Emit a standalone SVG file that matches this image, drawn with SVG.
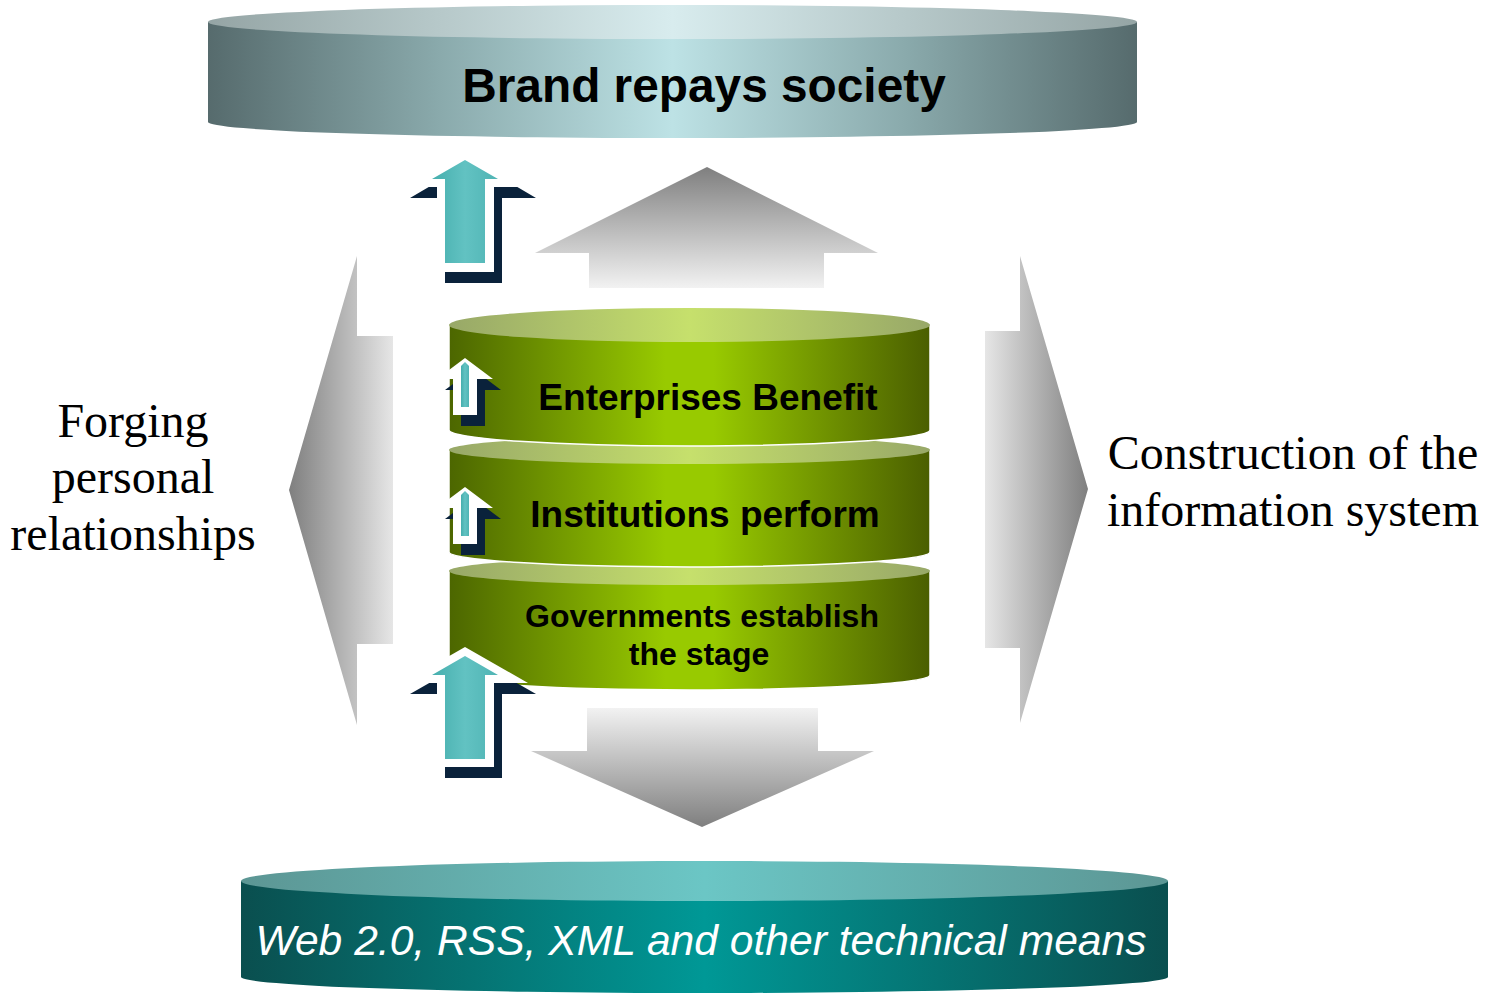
<svg xmlns="http://www.w3.org/2000/svg" width="1489" height="994" viewBox="0 0 1489 994">
<defs>
<linearGradient id="topBody" x1="0" y1="0" x2="1" y2="0">
<stop offset="0" stop-color="#566b6d"/><stop offset="0.25" stop-color="#8aaaac"/><stop offset="0.5" stop-color="#bde2e5"/><stop offset="0.75" stop-color="#8aaaac"/><stop offset="1" stop-color="#566b6d"/>
</linearGradient>
<linearGradient id="topCap" x1="0" y1="0" x2="1" y2="0">
<stop offset="0" stop-color="#95a5a5"/><stop offset="0.5" stop-color="#d8ecee"/><stop offset="1" stop-color="#95a5a5"/>
</linearGradient>
<linearGradient id="botBody" x1="0" y1="0" x2="1" y2="0">
<stop offset="0" stop-color="#0a4f4f"/><stop offset="0.5" stop-color="#009896"/><stop offset="1" stop-color="#0a4f4f"/>
</linearGradient>
<linearGradient id="botCap" x1="0" y1="0" x2="1" y2="0">
<stop offset="0" stop-color="#5c9694"/><stop offset="0.5" stop-color="#6bc6c5"/><stop offset="1" stop-color="#5c9694"/>
</linearGradient>
<linearGradient id="grBody" x1="0" y1="0" x2="1" y2="0">
<stop offset="0" stop-color="#4c6600"/><stop offset="0.45" stop-color="#98ca00"/><stop offset="0.55" stop-color="#98ca00"/><stop offset="1" stop-color="#4a5e00"/>
</linearGradient>
<linearGradient id="grCap" x1="0" y1="0" x2="1" y2="0">
<stop offset="0" stop-color="#98a868"/><stop offset="0.5" stop-color="#c6e06c"/><stop offset="1" stop-color="#98a868"/>
</linearGradient>
<linearGradient id="gUp" x1="0" y1="0" x2="0" y2="1">
<stop offset="0" stop-color="#7f7f7f"/><stop offset="1" stop-color="#f2f2f2"/>
</linearGradient>
<linearGradient id="gDown" x1="0" y1="0" x2="0" y2="1">
<stop offset="0" stop-color="#f2f2f2"/><stop offset="1" stop-color="#7f7f7f"/>
</linearGradient>
<linearGradient id="gLeft" x1="0" y1="0" x2="1" y2="0">
<stop offset="0" stop-color="#7f7f7f"/><stop offset="1" stop-color="#e6e6e6"/>
</linearGradient>
<linearGradient id="gRight" x1="0" y1="0" x2="1" y2="0">
<stop offset="0" stop-color="#e6e6e6"/><stop offset="1" stop-color="#7f7f7f"/>
</linearGradient>
<linearGradient id="teal" x1="0" y1="0" x2="1" y2="0">
<stop offset="0" stop-color="#45aead"/><stop offset="0.5" stop-color="#62c2c2"/><stop offset="1" stop-color="#4fb4b4"/>
</linearGradient>
</defs>
<style>
.navy{fill:#0a223b}
.wh{fill:#ffffff}
.tl{fill:url(#teal)}
.gbody{fill:url(#grBody);stroke:#ffffff;stroke-width:1.5}
.gcap{fill:url(#grCap)}
.gt{font-family:"Liberation Sans",Arial,sans-serif;font-weight:bold;fill:#000;text-anchor:middle}
.lab{font-family:"Liberation Serif","Times New Roman",serif;font-size:48px;fill:#000;text-anchor:middle}
</style>

<g id="connectors">
<polygon id="arrow-up" fill="url(#gUp)" points="707,167 878,253 824,253 824,288 589,288 589,253 535,253"/>
<polygon id="arrow-down" fill="url(#gDown)" points="587,708 818,708 818,751 874,751 702,827 531,751 587,751"/>
<polygon id="arrow-left" fill="url(#gLeft)" points="289,490 357,256 357,336 393,336 393,644 357,644 357,725"/>
<polygon id="arrow-right" fill="url(#gRight)" points="1088,489 1020,723 1020,648 985,648 985,331 1020,331 1020,256"/>
</g>

<g id="top-cylinder">
<path fill="url(#topBody)" d="M208,22 L208,122 A464.5,16 0 0 0 1137,122 L1137,22 Z"/>
<ellipse fill="url(#topCap)" cx="672.5" cy="22" rx="464.5" ry="17"/>
<text x="704" y="102" font-family="Liberation Sans,Arial,sans-serif" font-weight="bold" font-size="47.8" text-anchor="middle" fill="#000">Brand repays society</text>
</g>

<g id="bottom-cylinder">
<path fill="url(#botBody)" d="M241,881 L241,977 A463.5,16 0 0 0 1168,977 L1168,881 Z"/>
<ellipse fill="url(#botCap)" cx="704.5" cy="881" rx="463.5" ry="20"/>
<text x="701" y="955" font-family="Liberation Sans,Arial,sans-serif" font-style="italic" font-size="42.6" text-anchor="middle" fill="#ffffff">Web 2.0, RSS, XML and other technical means</text>
</g>

<g id="tier-governments">
<path class="gbody" d="M449,571 L449,675 A240.5,15 0 0 0 930,675 L930,571 Z"/>
<ellipse class="gcap" cx="689.5" cy="571" rx="240.5" ry="14"/>
<text class="gt" x="702" y="627" font-size="32">Governments establish</text>
<text class="gt" x="699" y="665" font-size="32">the stage</text>
</g>

<g id="tier-institutions">
<path class="gbody" d="M449,450 L449,552 A240.5,15 0 0 0 930,552 L930,450 Z"/>
<ellipse class="gcap" cx="689.5" cy="450" rx="240.5" ry="14"/>
<text class="gt" x="705" y="527" font-size="37">Institutions perform</text>
</g>

<g id="tier-enterprises">
<path class="gbody" d="M449,325 L449,430 A240.5,16 0 0 0 930,430 L930,325 Z"/>
<ellipse class="gcap" cx="689.5" cy="325" rx="240.5" ry="17"/>
<text class="gt" x="708" y="410" font-size="37">Enterprises Benefit</text>
</g>

<g id="icon-top">
<polygon class="navy" points="473,161 536,198 502,198 502,283 445,283 445,198 410,198"/>
<polygon class="wh" points="465,150 528,187 494,187 494,272 437,272 437,187 402,187"/>
<polygon class="tl" points="465,160 498,179 485,179 485,263 445,263 445,179 432,179"/>
</g>

<g id="icon-bottom">
<polygon class="navy" points="473,658 536,694 502,694 502,778 445,778 445,694 410,694"/>
<polygon class="wh" points="465,647 528,683 494,683 494,767 437,767 437,683 402,683"/>
<polygon class="tl" points="465,656 498,675 485,675 485,759 445,759 445,675 432,675"/>
</g>

<g id="icon-tier1">
<polygon class="navy" points="473,369 501,390 485,390 485,426 461,426 461,390 445,390"/>
<polygon class="wh" points="465,358 493,379 477,379 477,415 453,415 453,379 437,379"/>
<polygon class="tl" points="465,362 469,366 469,407 461,407 461,366"/>
</g>

<g id="icon-tier2">
<polygon class="navy" points="473,498 501,519 485,519 485,555 461,555 461,519 445,519"/>
<polygon class="wh" points="465,487 493,508 477,508 477,544 453,544 453,508 437,508"/>
<polygon class="tl" points="465,491 469,495 469,536 461,536 461,495"/>
</g>

<g id="label-left">
<text class="lab" x="133" y="437">Forging</text>
<text class="lab" x="133" y="493">personal</text>
<text class="lab" x="133" y="550">relationships</text>
</g>

<g id="label-right">
<text class="lab" x="1293" y="469">Construction of the</text>
<text class="lab" x="1293" y="526">information system</text>
</g>
</svg>
